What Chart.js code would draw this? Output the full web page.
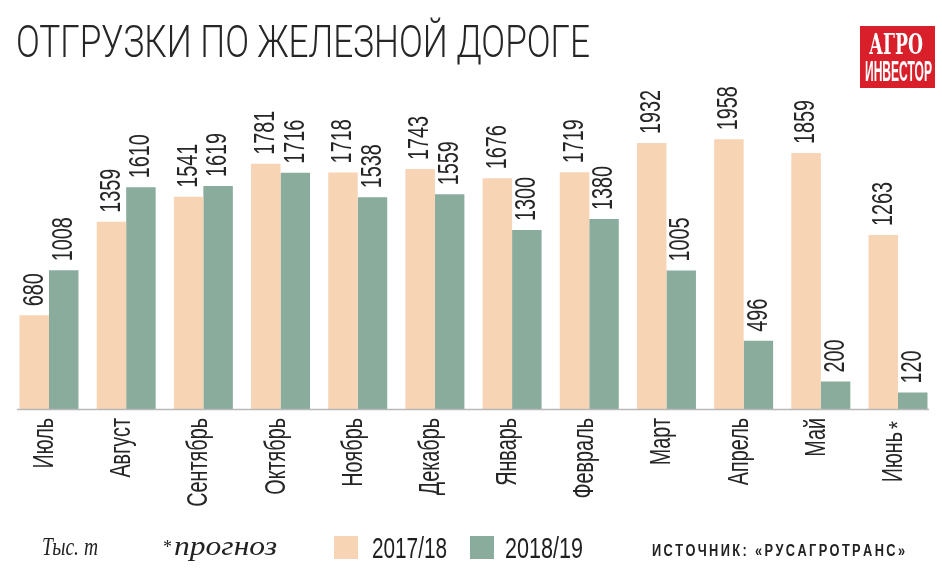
<!DOCTYPE html>
<html><head><meta charset="utf-8">
<script src="https://cdn.jsdelivr.net/npm/chart.js@4/dist/chart.umd.min.js"></script>
<style>html,body{margin:0;padding:0;background:#fff;overflow:hidden}#wrap{width:942px;height:576px;position:relative}</style>
</head><body><div id="wrap"><canvas id="c" width="942" height="576"></canvas></div>
<script>
const categories = ["Июль","Август","Сентябрь","Октябрь","Ноябрь","Декабрь","Январь","Февраль","Март","Апрель","Май","Июнь*"];
const seriesNames = ["2017/18","2018/19"];
const values2017 = [680,1359,1541,1781,1718,1743,1676,1719,1932,1958,1859,1263];
const values2018 = [1008,1610,1619,1716,1538,1559,1300,1380,1005,496,200,120];
const yMin = 0, yMax = 2534;
const titleText = "ОТГРУЗКИ ПО ЖЕЛЕЗНОЙ ДОРОГЕ";
const unitText = "Тыс. т";
const noteMark = "*";
const noteText = "прогноз";
const sourceText = "ИСТОЧНИК: «РУСАГРОТРАНС»";
const logoLines = ["АГРО","ИНВЕСТОР"];

const COL_A = '#f7d4b4', COL_B = '#89ac9c', TXT = '#1f1f1f';
const COND = 0.66;

function fitText(ctx, text, x, y, font, targetW, color) {
  ctx.save();
  ctx.font = font;
  ctx.fillStyle = color;
  ctx.textAlign = 'left';
  ctx.textBaseline = 'alphabetic';
  const w = ctx.measureText(text).width;
  ctx.translate(x, y);
  ctx.scale(targetW / w, 1);
  ctx.fillText(text, 0, 0);
  ctx.restore();
}
function spacedText(ctx, text, x, y, font, targetW, color, sx) {
  ctx.save();
  ctx.font = font; ctx.fillStyle = color; ctx.textBaseline = 'alphabetic'; ctx.textAlign = 'left';
  const chars = [...text];
  const ws = chars.map(c => ctx.measureText(c).width * sx);
  const total = ws.reduce((a, b) => a + b, 0);
  const gap = (targetW - total) / (chars.length - 1);
  let cx = x;
  chars.forEach((c, i) => {
    ctx.save(); ctx.translate(cx, y); ctx.scale(sx, 1); ctx.fillText(c, 0, 0); ctx.restore();
    cx += ws[i] + gap;
  });
  ctx.restore();
}

const decor = {
  id: 'decor',
  afterDraw(chart) {
    const ctx = chart.ctx;
    const xs = chart.scales.x;
    const base = chart.scales.y.getPixelForValue(0);
    // axis line
    ctx.save();
    ctx.strokeStyle = '#b8b8b8'; ctx.lineWidth = 1.5;
    ctx.beginPath(); ctx.moveTo(17, base + 0.5); ctx.lineTo(929, base + 0.5); ctx.stroke();
    ctx.restore();
    // value labels
    chart.data.datasets.forEach((ds, di) => {
      const meta = chart.getDatasetMeta(di);
      meta.data.forEach((el, i) => {
        ctx.save();
        ctx.translate(el.x, el.y - 9);
        ctx.rotate(-Math.PI / 2);
        ctx.scale(COND, 1);
        ctx.font = '30px "Liberation Sans", Arial, sans-serif';
        ctx.fillStyle = '#262626'; ctx.textAlign = 'left'; ctx.textBaseline = 'middle';
        ctx.fillText(String(ds.data[i]), 0, 0);
        ctx.restore();
      });
    });
    // category labels
    chart.data.labels.forEach((lab, i) => {
      const x = xs.getPixelForValue(i);
      const star = lab.endsWith('*');
      const txt = star ? lab.slice(0, -1) : lab;
      const endY = star ? 432 : 418;
      ctx.save();
      ctx.translate(x + 4, endY);
      ctx.rotate(-Math.PI / 2);
      ctx.fillStyle = '#262626'; ctx.textBaseline = 'alphabetic';
      ctx.save();
      ctx.scale(COND, 1);
      ctx.font = '30px "Liberation Sans", Arial, sans-serif';
      ctx.textAlign = 'right';
      ctx.fillText(txt, 0, 0);
      ctx.restore();
      if (star) {
        ctx.save();
        ctx.translate(3, 4);
        ctx.scale(0.85, 1);
        ctx.font = '24px "Liberation Sans", Arial, sans-serif';
        ctx.textAlign = 'left';
        ctx.fillText('*', 0, 0);
        ctx.restore();
      }
      ctx.restore();
    });
    // title
    fitText(ctx, titleText, 16, 57, '300 45px Roboto, "Liberation Sans", sans-serif', 574, '#262626');
    // logo
    ctx.save();
    ctx.fillStyle = '#d81f2a';
    ctx.fillRect(860, 26, 75, 62);
    ctx.restore();
    fitText(ctx, logoLines[0], 869, 54, 'bold 28px "DejaVu Serif", serif', 54, '#ffffff');
    fitText(ctx, logoLines[1], 865, 81, 'bold 30px "Liberation Sans", Arial, sans-serif', 67, '#ffffff');
    // legend
    const boxes = [[334, 372, 447], [470, 505, 583]];
    chart.data.datasets.forEach((ds, di) => {
      const b = boxes[di];
      ctx.save();
      ctx.fillStyle = ds.backgroundColor;
      ctx.fillRect(b[0], 536, 24, 23);
      ctx.restore();
      fitText(ctx, ds.label, b[1], 558, '30px "Liberation Sans", Arial, sans-serif', b[2] - b[1], TXT);
    });
    // unit & note
    fitText(ctx, unitText, 42, 555, 'italic 26px "Liberation Serif", "DejaVu Serif", serif', 56, '#222');
    ctx.save();
    ctx.font = '18px "Liberation Serif", serif'; ctx.fillStyle = '#222';
    ctx.fillText(noteMark, 163, 553);
    ctx.restore();
    fitText(ctx, noteText, 174, 555, 'italic 27px "Liberation Serif", "DejaVu Serif", serif', 103, '#222');
    // source
    spacedText(ctx, sourceText, 652, 556, 'bold 16px "Liberation Sans", Arial, sans-serif', 253, '#222', 0.8);
  }
};

new Chart(document.getElementById('c'), {
  type: 'bar',
  data: {
    labels: categories,
    datasets: [
      { label: seriesNames[0], data: values2017, backgroundColor: COL_A, borderWidth: 0 },
      { label: seriesNames[1], data: values2018, backgroundColor: COL_B, borderWidth: 0 }
    ]
  },
  options: {
    responsive: false,
    animation: false,
    devicePixelRatio: 1,
    layout: { padding: { left: 10.4, right: 5.4, top: 60, bottom: 167 } },
    datasets: { bar: { categoryPercentage: 0.764, barPercentage: 1.0 } },
    plugins: { legend: { display: false }, title: { display: false }, tooltip: { enabled: false } },
    scales: {
      x: { display: false },
      y: { display: false, min: yMin, max: yMax }
    }
  },
  plugins: [decor]
});
</script>
</body></html>
